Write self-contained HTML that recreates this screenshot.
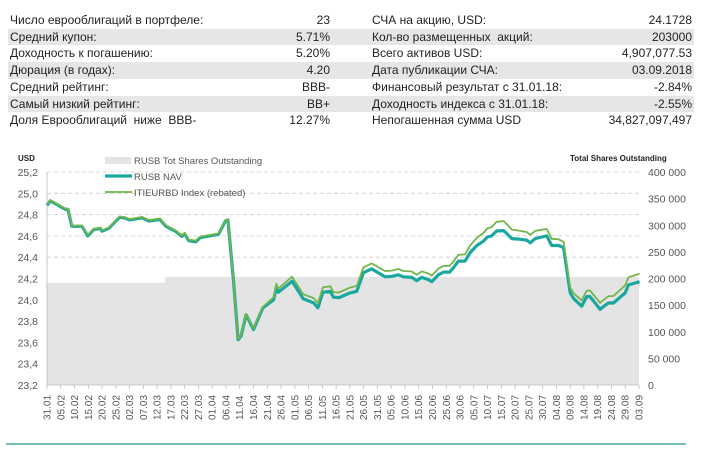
<!DOCTYPE html>
<html><head><meta charset="utf-8"><style>
body{margin:0;background:#fff;width:702px;height:461px;overflow:hidden;font-family:"Liberation Sans",sans-serif;position:relative}
.row{position:absolute;left:8px;width:686px;height:16.7px;font-size:12px;color:#222;line-height:16.7px}
.row.g{background:#e6e6e6}
.row span{position:absolute;white-space:pre}
.l1{left:2px}.v1{right:364px}.l2{left:364px}.v2{right:2px}
</style></head><body>
<div id="tbl"></div>
<svg id="c" width="702" height="461" style="position:absolute;left:0;top:0" xmlns="http://www.w3.org/2000/svg" font-family="Liberation Sans, sans-serif"></svg>
<script>
var rows=[["Число еврооблигаций в портфеле:","23","СЧА на акцию, USD:","24.1728"],
["Средний купон:","5.71%","Кол-во размещенных  акций:","203000"],
["Доходность к погашению:","5.20%","Всего активов USD:","4,907,077.53"],
["Дюрация (в годах):","4.20","Дата публикации СЧА:","03.09.2018"],
["Средний рейтинг:","BBB-","Финансовый результат с 31.01.18:","-2.84%"],
["Самый низкий рейтинг:","BB+","Доходность индекса с 31.01.18:","-2.55%"],
["Доля Еврооблигаций  ниже  BBB-","12.27%","Непогашенная сумма USD","34,827,097,497"]];
var h="";rows.forEach(function(r,i){h+='<div class="row'+(i%2?' g':'')+'" style="top:'+(12+i*16.7)+'px"><span class="l1">'+r[0]+'</span><span class="v1">'+r[1]+'</span><span class="l2">'+r[2]+'</span><span class="v2">'+r[3]+'</span></div>';});
document.getElementById('tbl').innerHTML=h;
var X=function(d){return 47+d*592/215},Y=function(v){return 385-(v-23.2)*106.5};
var s='';
s+='<rect x="47" y="'+(385-192000/400000*213)+'" width="118" height="'+(192000/400000*213)+'" fill="#e4e4e4"/>';
s+='<rect x="165" y="'+(385-203000/400000*213)+'" width="474" height="'+(203000/400000*213)+'" fill="#e4e4e4"/>';
for(var i=1;i<=10;i++){var v=23.2+i*0.2,y=Y(v);if(v>24.25)s+='<line x1="47" x2="639" y1="'+y+'" y2="'+y+'" stroke="#ccc" stroke-dasharray="4,3" stroke-width="0.8"/>';}
for(var i=0;i<=10;i++){var v=23.2+i*0.2,y=Y(v);s+='<text x="38" y="'+(y+4)+'" font-size="10.5" fill="#555" text-anchor="end">'+v.toFixed(1).replace('.',',')+'</text>';}
for(var i=0;i<=8;i++){var r=i*50000,y=385-r/400000*213;s+='<text x="648" y="'+(y+4)+'" font-size="10.5" fill="#555">'+(r>=1000?(Math.floor(r/1000)+' 000'):'0')+'</text>';}
s+='<line x1="47" x2="47" y1="172" y2="385" stroke="#bbb" stroke-width="0.8"/><line x1="47" x2="639" y1="385" y2="385" stroke="#bbb" stroke-width="0.8"/>';
var lab=["31.01","05.02","10.02","15.02","20.02","25.02","02.03","07.03","12.03","17.03","22.03","27.03","01.04","06.04","11.04","16.04","21.04","26.04","01.05","06.05","11.05","16.05","21.05","26.05","31.05","05.06","10.06","15.06","20.06","25.06","30.06","05.07","10.07","15.07","20.07","25.07","30.07","04.08","09.08","14.08","19.08","24.08","29.08","03.09"];
lab.forEach(function(t,i){var x=X(i*5);s+='<line x1="'+x+'" x2="'+x+'" y1="385" y2="389" stroke="#bbb" stroke-width="0.8"/><text transform="translate('+(x+3.5)+',420) rotate(-90)" font-size="10" fill="#555">'+t+'</text>';});
var nav=[[0,24.885],[1.2,24.93],[6.7,24.85],[7.6,24.85],[9,24.69],[12.7,24.69],[14.8,24.6],[17,24.66],[19.4,24.67],[20,24.645],[22.4,24.67],[26.4,24.775],[28,24.77],[30,24.75],[34.5,24.77],[37,24.74],[41,24.755],[43.2,24.69],[46.6,24.645],[49,24.595],[50,24.62],[51.5,24.555],[54,24.545],[55.7,24.585],[62.3,24.615],[64.8,24.74],[65.7,24.75],[67.8,24.16],[69.4,23.625],[70.5,23.66],[72.3,23.86],[75,23.72],[78.4,23.925],[82.3,24.0],[83.3,24.12],[84,24.07],[89,24.175],[93,24.01],[96.9,23.97],[98.4,23.925],[100.2,24.07],[102.9,24.08],[104,24.025],[106,24.02],[110,24.065],[112.5,24.08],[114.9,24.254],[117.9,24.29],[120.3,24.254],[122.8,24.216],[125.2,24.22],[127.6,24.235],[129.4,24.216],[132.4,24.21],[134.3,24.18],[136.1,24.21],[138.5,24.19],[139.7,24.17],[142.2,24.235],[144,24.26],[146.2,24.26],[147.6,24.3],[149.4,24.363],[151.8,24.363],[153.6,24.44],[156.1,24.51],[158.5,24.55],[159.9,24.59],[161.5,24.6],[163.3,24.646],[165.8,24.65],[166.7,24.63],[168.8,24.575],[171.2,24.57],[174.3,24.56],[175.5,24.535],[177.3,24.575],[179.7,24.59],[181.5,24.6],[183.3,24.51],[185.8,24.51],[187.6,24.49],[190,24.065],[191.3,24.01],[194.2,23.94],[196,24.03],[197.2,24.03],[200.9,23.91],[201.5,23.925],[203.9,23.97],[205.7,23.97],[210,24.065],[211.2,24.14],[215.2,24.17]];
var off=[[0,0.005],[60,0.01],[65,0.005],[80,0.01],[85,0.04],[110,0.05],[150,0.06],[165,0.09],[185,0.06],[190,0.05],[215,0.075]];
function o(d){for(var i=1;i<off.length;i++)if(d<=off[i][0]){var a=off[i-1],b=off[i];return a[1]+(b[1]-a[1])*(d-a[0])/(b[0]-a[0]);}return 0.075;}
var p1='',p2='';nav.forEach(function(p,i){p1+=(i?'L':'M')+X(p[0]).toFixed(1)+','+Y(p[1]).toFixed(1);p2+=(i?'L':'M')+X(p[0]).toFixed(1)+','+Y(p[1]+o(p[0])).toFixed(1);});
s+='<path d="'+p1+'" fill="none" stroke="#19a7a0" stroke-width="3.2" stroke-linejoin="round"/>';
s+='<path d="'+p2+'" fill="none" stroke="#72b54a" stroke-width="1.8" stroke-linejoin="round"/>';
s+='<rect x="105" y="157" width="26" height="7" fill="#e4e4e4"/><text x="134" y="164" font-size="9.5" fill="#555">RUSB Tot Shares Outstanding</text>';
s+='<line x1="105" x2="132" y1="176" y2="176" stroke="#19a7a0" stroke-width="3.2"/><text x="134" y="180" font-size="9.5" fill="#555">RUSB NAV</text>';
s+='<line x1="105" x2="132" y1="192" y2="192" stroke="#72b54a" stroke-width="1.8"/><text x="134" y="196" font-size="9.5" fill="#555">ITIEURBD Index (rebated)</text>';
s+='<text x="18" y="161" font-size="8" font-weight="bold" fill="#222">USD</text>';
s+='<text x="570" y="161" font-size="8" font-weight="bold" fill="#222">Total Shares Outstanding</text>';
s+='<line x1="6" x2="686" y1="444" y2="444" stroke="#4aa89a" stroke-width="1.5"/>';
document.getElementById('c').innerHTML=s;
</script>
</body></html>
